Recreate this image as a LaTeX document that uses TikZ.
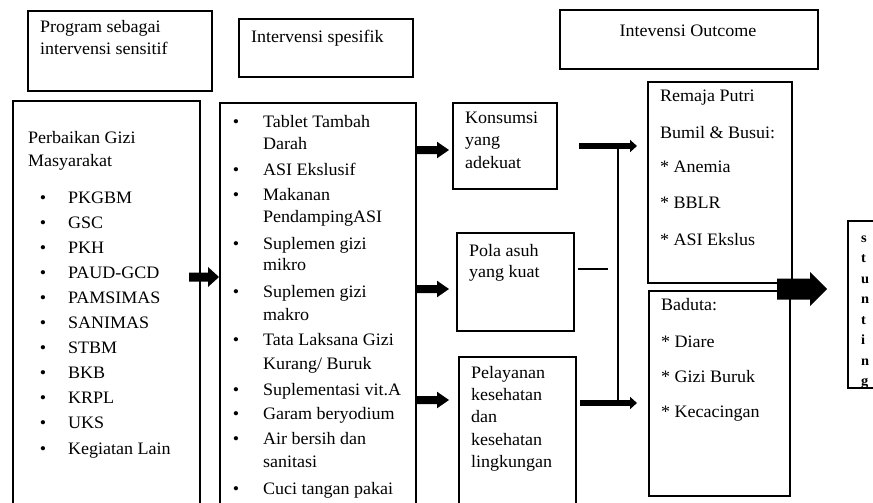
\documentclass[tikz,border=0pt]{standalone}
\usepackage{fontspec}
\setmainfont{Liberation Serif}[FakeStretch=1.03]
\usetikzlibrary{arrows.meta,fit}
\tikzset{
  box/.style={draw, line width=1.2pt, inner sep=0pt, outer sep=0pt},
  heavybox/.style={draw, line width=2.8pt, inner sep=0pt, outer sep=0pt},
  txt/.style={anchor=base west, inner sep=0pt, outer sep=0pt, font=\fontsize{17.5}{20}\selectfont},
  bul/.style={anchor=base, inner sep=0pt, outer sep=0pt, font=\fontsize{17.5}{20}\selectfont},
  ctxt/.style={anchor=base, inner sep=0pt, outer sep=0pt, font=\fontsize{17.5}{20}\selectfont},
  stxt/.style={anchor=base west, inner sep=0pt, outer sep=0pt, font=\fontsize{14}{16}\selectfont\bfseries},
  conn/.style={line width=5.5pt, -{Triangle[length=7pt,width=12pt]}},
  thinline/.style={line width=1.3pt},
}
\newcommand\blkarrow[6]{\fill (#1,#4-#5) -- (#2,#4-#5) -- (#2,#4-#6) -- (#3,#4) -- (#2,#4+#6) -- (#2,#4+#5) -- (#1,#4+#5) -- cycle;}
\begin{document}
\begin{tikzpicture}[x=1pt,y=-1pt]
\useasboundingbox (0,0) rectangle (873,503);
\clip (0,0) rectangle (873,503);
% header boxes
\node[box, fit={(28,11) (212,91)}] (h1) {};
\node[box, fit={(239,19) (413,77)}] (h2) {};
\node[box, fit={(560,10) (818,69)}] (h3) {};
\node[txt] (h1a) at (40,33) {Program sebagai};
\node[txt] (h1b) at (40,55) {intervensi sensitif};
\node[txt] (h2a) at (251,43) {Intervensi spesifik};
\node[ctxt] (h3a) at (688,37) {Intevensi Outcome};
% main boxes
\node[heavybox, fit={(13,101) (200,530)}] (left) {};
\node[box, fit={(220,103) (416,530)}] (mid) {};
\node[box, fit={(453,103) (557,189)}] (kons) {};
\node[box, fit={(457,233) (574,331)}] (pola) {};
\node[box, fit={(459,357) (576,530)}] (pel) {};
\node[box, fit={(648,82) (792,283)}] (rem) {};
\node[box, fit={(649,291) (790,496)}] (bad) {};
\node[box, fit={(848,221) (900,388)}] (stu) {};
% left list
\node[txt] (la) at (28,143) {Perbaikan Gizi};
\node[txt] (lb) at (28,166) {Masyarakat};
\node[bul] (lp1) at (43,203) {•}; \node[txt] (l1) at (68,203) {PKGBM};
\node[bul] (lp2) at (43,228.1) {•}; \node[txt] (l2) at (68,228.1) {GSC};
\node[bul] (lp3) at (43,253.2) {•}; \node[txt] (l3) at (68,253.2) {PKH};
\node[bul] (lp4) at (43,278.3) {•}; \node[txt] (l4) at (68,278.3) {PAUD-GCD};
\node[bul] (lp5) at (43,303.4) {•}; \node[txt] (l5) at (68,303.4) {PAMSIMAS};
\node[bul] (lp6) at (43,328.5) {•}; \node[txt] (l6) at (68,328.5) {SANIMAS};
\node[bul] (lp7) at (43,353.6) {•}; \node[txt] (l7) at (68,353.6) {STBM};
\node[bul] (lp8) at (43,378.7) {•}; \node[txt] (l8) at (68,378.7) {BKB};
\node[bul] (lp9) at (43,403.8) {•}; \node[txt] (l9) at (68,403.8) {KRPL};
\node[bul] (lp10) at (43,428.9) {•}; \node[txt] (l10) at (68,428.9) {UKS};
\node[bul] (lp11) at (43,454) {•}; \node[txt] (l11) at (68,454) {Kegiatan Lain};
% middle list
\node[bul] (mp1) at (236,127) {•}; \node[txt] (m1) at (263,127) {Tablet Tambah};
\node[txt] (m2) at (263,149) {Darah};
\node[bul] (mp3) at (236,175.5) {•}; \node[txt] (m3) at (263,175.5) {ASI Ekslusif};
\node[bul] (mp4) at (236,200.5) {•}; \node[txt] (m4) at (263,200.5) {Makanan};
\node[txt] (m5) at (263,222) {PendampingASI};
\node[bul] (mp6) at (236,249) {•}; \node[txt] (m6) at (263,249) {Suplemen gizi};
\node[txt] (m7) at (263,270.5) {mikro};
\node[bul] (mp8) at (236,297) {•}; \node[txt] (m8) at (263,297) {Suplemen gizi};
\node[txt] (m9) at (263,320.5) {makro};
\node[bul] (mp10) at (236,345.5) {•}; \node[txt] (m10) at (263,345.5) {Tata Laksana Gizi};
\node[txt] (m11) at (263,369) {Kurang/ Buruk};
\node[bul] (mp12) at (236,395.5) {•}; \node[txt] (m12) at (263,395.5) {Suplementasi vit.A};
\node[bul] (mp13) at (236,419) {•}; \node[txt] (m13) at (263,419) {Garam beryodium};
\node[bul] (mp14) at (236,444) {•}; \node[txt] (m14) at (263,444) {Air bersih dan};
\node[txt] (m15) at (263,467) {sanitasi};
\node[bul] (mp16) at (236,494) {•}; \node[txt] (m16) at (263,494) {Cuci tangan pakai};
% third column
\node[txt] (k1) at (465,123) {Konsumsi};
\node[txt] (k2) at (465,145.5) {yang};
\node[txt] (k3) at (465,168) {adekuat};
\node[txt] (p1) at (469,256) {Pola asuh};
\node[txt] (p2) at (469,277) {yang kuat};
\node[txt] (s1) at (471,378) {Pelayanan};
\node[txt] (s2) at (471,400) {kesehatan};
\node[txt] (s3) at (471,422) {dan};
\node[txt] (s4) at (471,445) {kesehatan};
\node[txt] (s5) at (471,467) {lingkungan};
% outcome boxes
\node[txt] (r1) at (660,102) {Remaja Putri};
\node[txt] (r2) at (660,138) {Bumil \& Busui:};
\node[txt] (r3) at (660,172) {* Anemia};
\node[txt] (r4) at (660,208) {* BBLR};
\node[txt] (r5) at (660,245) {* ASI Ekslus};
\node[txt] (d1) at (661,310) {Baduta:};
\node[txt] (d2) at (661,347) {* Diare};
\node[txt] (d3) at (661,382) {* Gizi Buruk};
\node[txt] (d4) at (661,417) {* Kecacingan};
% stunting
\node[stxt] (t1) at (861,242) {s};
\node[stxt] (t2) at (861,262.5) {t};
\node[stxt] (t3) at (861,283) {u};
\node[stxt] (t4) at (861,303.5) {n};
\node[stxt] (t5) at (861,324) {t};
\node[stxt] (t6) at (861,344.5) {i};
\node[stxt] (t7) at (861,365) {n};
\node[stxt] (t8) at (861,385.5) {g};
% block arrows
\blkarrow{189}{208}{219}{277}{4.5}{10}
\blkarrow{417}{437}{449}{150}{4}{8.3}
\blkarrow{417}{437}{449}{289}{4}{8.3}
\blkarrow{417}{437}{449}{400}{4}{8.3}
\blkarrow{777}{810}{827}{289}{10.5}{17}
% connectors to outcome
\coordinate (ka) at (579,146);
\coordinate (kb) at (637,146);
\coordinate (pa) at (580,403);
\coordinate (pb) at (637,403);
\coordinate (va) at (618,146);
\coordinate (vb) at (618,403);
\coordinate (qa) at (578,269);
\coordinate (qb) at (608,269);
\draw[conn] (ka) -- (kb);
\draw[conn] (pa) -- (pb);
\draw[thinline] (va) -- (vb);
\draw[thinline] (qa) -- (qb);
\end{tikzpicture}
\end{document}
